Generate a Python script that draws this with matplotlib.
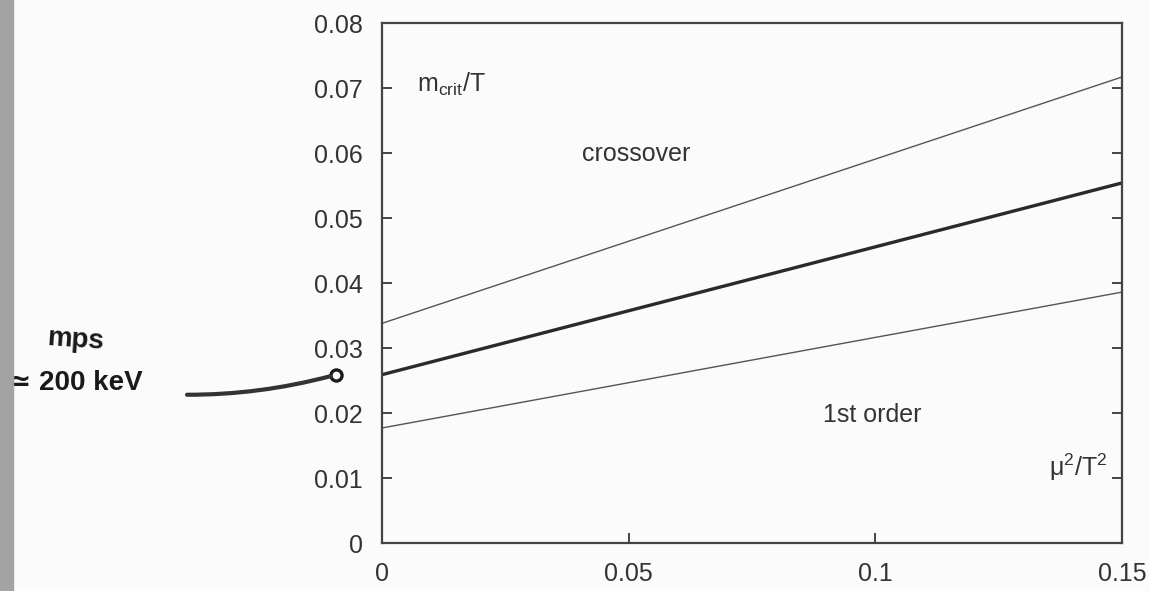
import matplotlib.pyplot as plt
import matplotlib.transforms as mtransforms
from matplotlib.patches import Rectangle

# critical mass line (central value) and its error band, linear in mu^2/T^2
mu2_T2 = [0.0, 0.15]
mcrit_mid = [0.0259, 0.0554]
mcrit_upper = [0.0338, 0.0717]
mcrit_lower = [0.0177, 0.0386]

x_ticks = [0, 0.05, 0.1, 0.15]
x_ticklabels = ["0", "0.05", "0.1", "0.15"]
y_ticks = [0, 0.01, 0.02, 0.03, 0.04, 0.05, 0.06, 0.07, 0.08]
y_ticklabels = ["0", "0.01", "0.02", "0.03", "0.04", "0.05", "0.06", "0.07", "0.08"]

ink = "#333333"
plt.rcParams["font.family"] = ["Liberation Sans", "DejaVu Sans"]
plt.rcParams["mathtext.fontset"] = "custom"
plt.rcParams["mathtext.rm"] = "Liberation Sans"
plt.rcParams["mathtext.it"] = "Liberation Sans"

fig = plt.figure(figsize=(11.49, 5.91), dpi=100)
fig.patch.set_facecolor("#fbfbfb")
# grey strip along the left edge of the page
fig.patches.append(Rectangle((0, 0), 13 / 1149, 1, transform=fig.transFigure,
                             color="#a3a3a3", zorder=0))

ax = fig.add_axes([0.3325, 0.0812, 0.6440, 0.8798])
ax.set_facecolor("#fbfbfb")
ax.set_xlim(0, 0.15)
ax.set_ylim(0, 0.08)

ax.plot(mu2_T2, mcrit_upper, color="#555555", lw=1.0)
ax.plot(mu2_T2, mcrit_mid, color="#2a2a2a", lw=2.4)
ax.plot(mu2_T2, mcrit_lower, color="#555555", lw=1.0)

for sp in ax.spines.values():
    sp.set_color("#444444")
    sp.set_linewidth(1.6)

ax.set_xticks(x_ticks)
ax.set_xticklabels(x_ticklabels)
ax.set_yticks(y_ticks)
ax.set_yticklabels(y_ticklabels)
ax.tick_params(axis="both", direction="in", length=7, width=1.4, color="#444444",
               labelsize=18, labelcolor=ink)
ax.tick_params(axis="y", right=True, pad=14)
ax.tick_params(axis="x", pad=14)

ax.text(0.0070, 0.0705, r"m$_{\rm crit}$/T", fontsize=18, color=ink, va="center")
ax.text(0.0405, 0.0598, "crossover", fontsize=18, color=ink, va="center")
ax.text(0.0893, 0.0197, "1st order", fontsize=18, color=ink, va="center")
ax.text(0.1470, 0.0117, r"μ$^{2}$/T$^{2}$", fontsize=18, color=ink, va="center", ha="right")

# handwritten note pointing at the intercept
hand = dict(fontsize=20, fontweight="bold", color="#1a1a1a", va="center")
fig.text(46 / 1149, 1 - 340 / 591, "mps", rotation=-4, **hand)
# small loop drawn just left of the axis at the intercept height
loop = ax.transData + mtransforms.ScaledTranslation(-0.46, 0, fig.dpi_scale_trans)
ax.plot([0], [mcrit_mid[0]], marker="o", ms=8, mfc="none", mec="#1a1a1a",
        mew=2.4, clip_on=False, transform=loop)
ax.annotate("≃ 200 keV", xy=(0, mcrit_mid[0]), xycoords=loop,
            xytext=(8 / 1149, 1 - 383 / 591), textcoords="figure fraction",
            annotation_clip=False,
            arrowprops=dict(arrowstyle="-", color="#333333", lw=3.0,
                            shrinkA=30, shrinkB=4,
                            connectionstyle="arc3,rad=0.12"),
            **hand)

fig.savefig("out.png", dpi=100, facecolor=fig.get_facecolor())
